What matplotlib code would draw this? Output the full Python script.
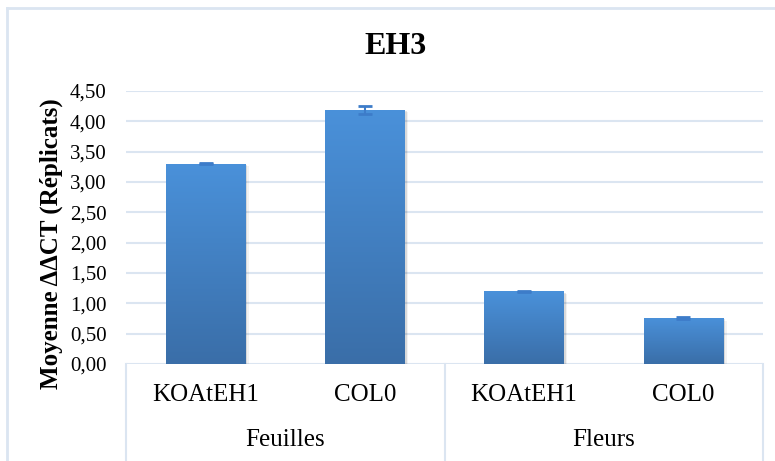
import numpy as np
import matplotlib
matplotlib.use("Agg")
from matplotlib import pyplot as plt
from matplotlib.colors import LinearSegmentedColormap
from matplotlib.lines import Line2D
from matplotlib.patches import Rectangle

groups = ["Feuilles", "Fleurs"]
lignees = ["KOAtEH1", "COL0", "KOAtEH1", "COL0"]
moyennes = [3.30, 4.19, 1.20, 0.76]
erreurs = [0.01, 0.07, 0.005, 0.02]
yticks = [0.0, 0.5, 1.0, 1.5, 2.0, 2.5, 3.0, 3.5, 4.0, 4.5]

W, H = 775, 461
grid_col = "#dbe5f1"
bar_cmap = LinearSegmentedColormap.from_list("bleu", ["#3a6ea8", "#4a91da"])

plt.rcParams["font.family"] = ["Liberation Serif", "DejaVu Serif"]


def main():
    fig = plt.figure(figsize=(W / 100, H / 100), dpi=100)
    ax = fig.add_axes([126 / W, 1 - 364 / H, (763 - 126) / W, (364 - 91) / H])

    x = np.arange(len(moyennes))
    bars = ax.bar(x, moyennes, width=0.5, color="none", edgecolor="none", zorder=3)

    # gradient fill + soft shadow for each bar
    grad = np.linspace(0, 1, 256).reshape(-1, 1)
    for b in bars:
        x0, w, h = b.get_x(), b.get_width(), b.get_height()
        for k, a in [(0.012, 0.10), (0.022, 0.05)]:
            ax.add_patch(Rectangle((x0 + k, -0.02), w, h + 0.02 - k * 2,
                                   color="#000000", alpha=a, lw=0, zorder=2))
        im = ax.imshow(grad, extent=[x0, x0 + w, 0, h], aspect="auto",
                       cmap=bar_cmap, origin="lower", zorder=3)
        im.set_clip_path(b)

    ax.errorbar(x, moyennes, yerr=erreurs, fmt="none", ecolor="#3d7cc9",
                elinewidth=1.5, capsize=5, capthick=2, zorder=4)

    ax.set_xlim(-0.5, 3.5)
    ax.set_ylim(0, 4.5)
    ax.set_yticks(yticks)
    ax.set_yticklabels([f"{v:.2f}".replace(".", ",") for v in yticks], fontsize=15)
    ax.tick_params(axis="y", length=0, pad=14)
    ax.set_xticks([])
    for s in ax.spines.values():
        s.set_visible(False)
    ax.yaxis.grid(True, color=grid_col, lw=1.5)
    ax.set_axisbelow(True)

    # category axis: labels and separators
    tr = ax.get_xaxis_transform()
    for xi, lab in zip(x, lignees):
        ax.text(xi, -0.113, lab, transform=tr, ha="center", va="center", fontsize=18)
    for gi, g in enumerate(groups):
        ax.text(2 * gi + 0.5, -0.278, g, transform=tr, ha="center", va="center", fontsize=18)
    for xs in [-0.5, 1.5, 3.5]:
        ax.add_line(Line2D([xs, xs], [0, -0.36], transform=tr, color=grid_col,
                           lw=1.5, clip_on=False))

    ax.set_ylabel("Moyenne ΔΔCT (Réplicats)", fontsize=18, fontweight="bold")
    ax.yaxis.set_label_coords(-(126 - 63) / (763 - 126), 0.44)

    fig.text(396 / W, 1 - 47 / H, "EH3", ha="center", va="center",
             fontsize=23, fontweight="bold")

    # outer chart frame
    fig.add_artist(Line2D([7 / W, 7 / W], [0, 1 - 8 / H], transform=fig.transFigure,
                          color=grid_col, lw=2))
    fig.add_artist(Line2D([7 / W, 1], [1 - 8 / H, 1 - 8 / H], transform=fig.transFigure,
                          color=grid_col, lw=2))

    fig.savefig("out.png", dpi=100)


if __name__ == "__main__":
    main()
